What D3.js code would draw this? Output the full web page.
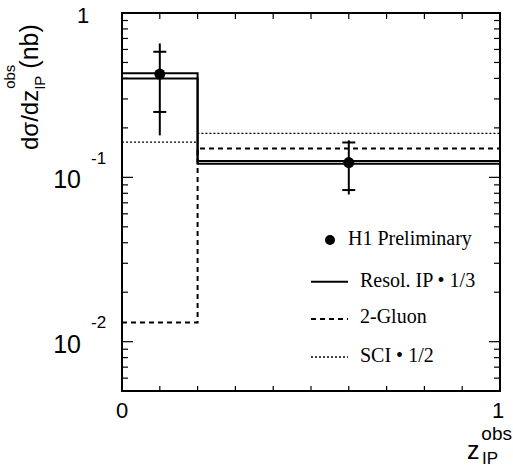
<!DOCTYPE html>
<html><head><meta charset="utf-8">
<script src="https://cdn.jsdelivr.net/npm/d3@7"></script>
<style>body{margin:0;background:#fff}svg{display:block}</style>
</head><body>
<svg id="c" width="513" height="468"></svg>
<script>
// ---- data ----
const binEdges = [0, 0.2, 1];
const resolIP_a = [0.43, 0.1257];
const resolIP_b = [0.40, 0.121];
const twoGluon = [0.0131, 0.15];
const sci = [0.164, 0.185];
const dataX = [0.1, 0.6];
const dataY = [0.425, 0.123];
const statHi = [0.581, 0.163];
const statLo = [0.250, 0.0837];
const totHi = [0.653, 0.168];
const totLo = [0.180, 0.0787];
const xTicks = [0,0.1,0.2,0.3,0.4,0.5,0.6,0.7,0.8,0.9,1];
const legendLabels = ["H1 Preliminary","Resol. IP \u2022 1/3","2-Gluon","SCI \u2022 1/2"];

const svg = d3.select("#c");
const L=122, R=500, T=13, B=391;
const x = d3.scaleLinear().domain([0,1]).range([L,R]);
const y = d3.scaleLog().domain([Math.pow(10,-2.3),1]).range([B,T]);

// ticks
const g = svg.append("g").attr("stroke","#000").attr("stroke-width",1.2);
xTicks.slice(1,-1).forEach(v=>{
  g.append("line").attr("x1",x(v)).attr("x2",x(v)).attr("y1",B).attr("y2",B-5);
  g.append("line").attr("x1",x(v)).attr("x2",x(v)).attr("y1",T).attr("y2",T+6);
});
const yt=[];
for (let e=-3;e<=0;e++) for (let m=1;m<=9;m++){ const v=m*Math.pow(10,e); if(v>=Math.pow(10,-2.3)&&v<=1) yt.push([v,m===1]); }
yt.forEach(([v,maj])=>{
  const len = maj?11:6;
  g.append("line").attr("x1",L).attr("x2",L+len).attr("y1",y(v)).attr("y2",y(v));
  g.append("line").attr("x1",R).attr("x2",R-len).attr("y1",y(v)).attr("y2",y(v));
});

// histograms
function hist(vals, attrs){
  const pts=[];
  vals.forEach((v,i)=>{pts.push([x(binEdges[i]),y(v)]);pts.push([x(binEdges[i+1]),y(v)]);});
  const p = svg.append("path").attr("d",d3.line()(pts)).attr("fill","none").attr("stroke","#000");
  Object.entries(attrs).forEach(([k,v])=>p.attr(k,v));
}
hist(sci,{"stroke-width":1.3,"stroke-dasharray":"2,2"});
hist(twoGluon,{"stroke-width":2,"stroke-dasharray":"5,4"});
hist(resolIP_a,{"stroke-width":2});
hist(resolIP_b,{"stroke-width":2});

// data points
dataX.forEach((xv,i)=>{
  const cx=x(xv);
  svg.append("line").attr("x1",cx).attr("x2",cx).attr("y1",y(totHi[i])).attr("y2",y(totLo[i])).attr("stroke","#000").attr("stroke-width",2);
  [statHi[i],statLo[i]].forEach(s=>svg.append("line").attr("x1",cx-6.5).attr("x2",cx+6.5).attr("y1",y(s)).attr("y2",y(s)).attr("stroke","#000").attr("stroke-width",2));
  svg.append("circle").attr("cx",cx).attr("cy",y(dataY[i])).attr("r",5.5).attr("fill","#000");
});

// frame
svg.append("rect").attr("x",L).attr("y",T).attr("width",R-L).attr("height",B-T).attr("fill","none").attr("stroke","#000").attr("stroke-width",2);

// axis labels
const sans="Liberation Sans, Arial, sans-serif";
svg.append("text").attr("x",83).attr("y",23).attr("text-anchor","middle").attr("font-family",sans).attr("font-size",22).text("1");
[[-1,188,164],[-2,353,328]].forEach(([e,by,ey])=>{
  svg.append("text").attr("x",81).attr("y",by).attr("text-anchor","end").attr("font-family",sans).attr("font-size",25).text("10");
  svg.append("text").attr("x",91).attr("y",ey).attr("font-family",sans).attr("font-size",17).text(String(e));
});
svg.append("text").attr("x",x(0)).attr("y",418).attr("text-anchor","middle").attr("font-family",sans).attr("font-size",22).text("0");
svg.append("text").attr("x",x(1)-2).attr("y",418).attr("text-anchor","middle").attr("font-family",sans).attr("font-size",22).text("1");

// y title
const yt_g = svg.append("g").attr("transform","translate(38,150) rotate(-90)").attr("font-family",sans);
const t1 = yt_g.append("text").attr("x",0).attr("y",0).attr("font-size",24).text("d\u03c3/dz");
const w1 = t1.node().getComputedTextLength();
const sub = yt_g.append("text").attr("x",w1).attr("y",7).attr("font-size",15).text("IP");
const sup = yt_g.append("text").attr("x",w1+1).attr("y",-23).attr("font-size",15).text("obs");
const w2 = Math.max(sub.node().getComputedTextLength(), sup.node().getComputedTextLength());
yt_g.append("text").attr("x",w1+w2-3).attr("y",0).attr("font-size",25).text("(nb)");

// x title
svg.append("text").attr("x",512).attr("y",440).attr("text-anchor","end").attr("font-family",sans).attr("font-size",19).text("obs");
svg.append("text").attr("x",467).attr("y",459).attr("font-family",sans).attr("font-size",25).text("z");
svg.append("text").attr("x",482).attr("y",464).attr("font-family",sans).attr("font-size",17).text("IP");

// legend
const serif="Liberation Serif, Times New Roman, serif";
svg.append("circle").attr("cx",330).attr("cy",240).attr("r",5).attr("fill","#000");
const legY=[245,287,323,362];
const legLineY=[null,281.7,319,357];
const legStyles=[null,{"stroke-width":2},{"stroke-width":2,"stroke-dasharray":"5,4"},{"stroke-width":1.3,"stroke-dasharray":"2,2"}];
legendLabels.forEach((lab,i)=>{
  svg.append("text").attr("x",i===0?348:360).attr("y",legY[i]).attr("font-family",serif).attr("font-size",20).text(lab);
  if(i>0){
    const ln=svg.append("line").attr("x1",311).attr("x2",348).attr("y1",legLineY[i]).attr("y2",legLineY[i]).attr("stroke","#000");
    Object.entries(legStyles[i]).forEach(([k,v])=>ln.attr(k,v));
  }
});
</script>
</body></html>
